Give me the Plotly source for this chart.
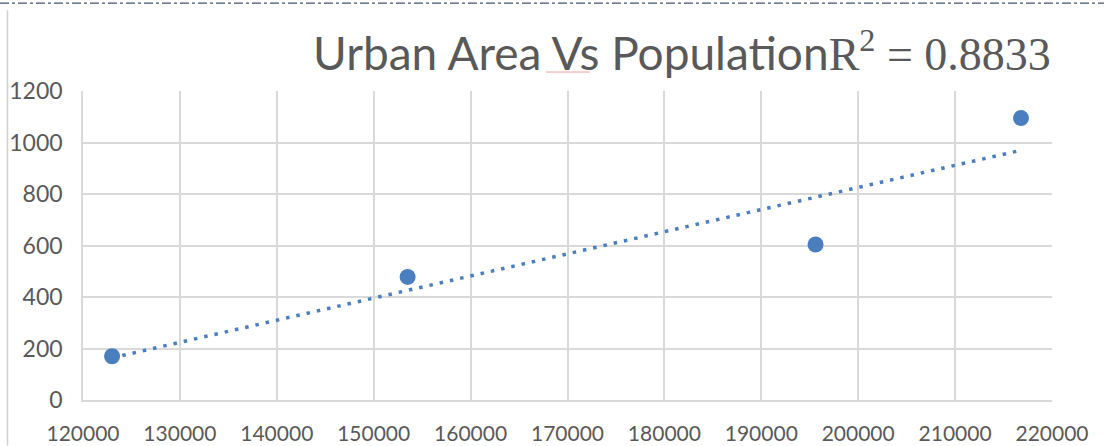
import numpy as np
import plotly.graph_objects as go

population = [123000, 153500, 195600, 216800]
urban_area = [170, 478, 604, 1095]
x_ticks = [120000, 130000, 140000, 150000, 160000, 170000, 180000, 190000, 200000, 210000, 220000]
y_ticks = [0, 200, 400, 600, 800, 1000, 1200]
title_main = "Urban Area Vs Population"
r2_label = "0.8833"

W, H = 1104, 446
L, R, T, B = 83, 1052, 91, 400.5

slope, intercept = np.polyfit(population, urban_area, 1)
tx = np.array([min(population), max(population)])
ty = slope * tx + intercept

fig = go.Figure()
fig.add_trace(go.Scatter(x=tx, y=ty, mode="lines",
                         line=dict(color="#4a7ebf", width=3.5, dash="3.5px,7px"),
                         hoverinfo="skip", showlegend=False))
fig.add_trace(go.Scatter(x=population, y=urban_area, mode="markers",
                         marker=dict(color="#4a7ebf", size=16),
                         showlegend=False))

def px_to_paper_x(p):
    return (p - L) / (R - L)

def px_to_paper_y(p):
    return (B - p) / (B - T)

shapes = [
    dict(type="line", xref="paper", yref="paper",
         x0=px_to_paper_x(0), x1=px_to_paper_x(W), y0=px_to_paper_y(3), y1=px_to_paper_y(3),
         line=dict(color="#44546a", width=1.2, dash="dashdot")),
    dict(type="line", xref="paper", yref="paper",
         x0=px_to_paper_x(7.5), x1=px_to_paper_x(7.5), y0=px_to_paper_y(10), y1=px_to_paper_y(H),
         line=dict(color="#d0d0d0", width=1.5)),
    dict(type="line", xref="paper", yref="paper",
         x0=px_to_paper_x(546), x1=px_to_paper_x(590), y0=px_to_paper_y(72), y1=px_to_paper_y(72),
         line=dict(color="#f4a0a0", width=1)),
]

title_text = (title_main +
              '<span style="font-family:Liberation Serif">R<sup>2</sup> = ' + r2_label + '</span>')

fig.update_layout(
    width=W, height=H,
    margin=dict(l=L, r=W - R, t=T, b=H - B, pad=0),
    paper_bgcolor="white", plot_bgcolor="white",
    title=dict(text=title_text, x=313 / W, xanchor="left",
               y=1 - 70 / H, yanchor="bottom",
               font=dict(family="Lato", size=46, color="#595959")),
    xaxis=dict(range=[120000, 220000], tickvals=x_ticks, ticktext=[str(v) for v in x_ticks],
               showgrid=True, gridcolor="#d9d9d9", gridwidth=1.5,
               showline=True, linecolor="#d9d9d9", linewidth=1.5, mirror=False,
               zeroline=False, ticks="", ticklabelstandoff=14, automargin=False,
               tickfont=dict(family="Lato", size=21, color="#595959")),
    yaxis=dict(range=[0, 1200], tickvals=y_ticks, ticktext=[str(v) for v in y_ticks],
               showgrid=True, gridcolor="#d9d9d9", gridwidth=1.5,
               showline=True, linecolor="#d9d9d9", linewidth=1.5,
               zeroline=False, ticks="", ticklabelstandoff=14, automargin=False,
               tickfont=dict(family="Lato", size=23, color="#595959")),
    shapes=shapes,
)

fig.write_html("out.html", config={"displayModeBar": False},
               post_script="document.body.style.margin='0';")
